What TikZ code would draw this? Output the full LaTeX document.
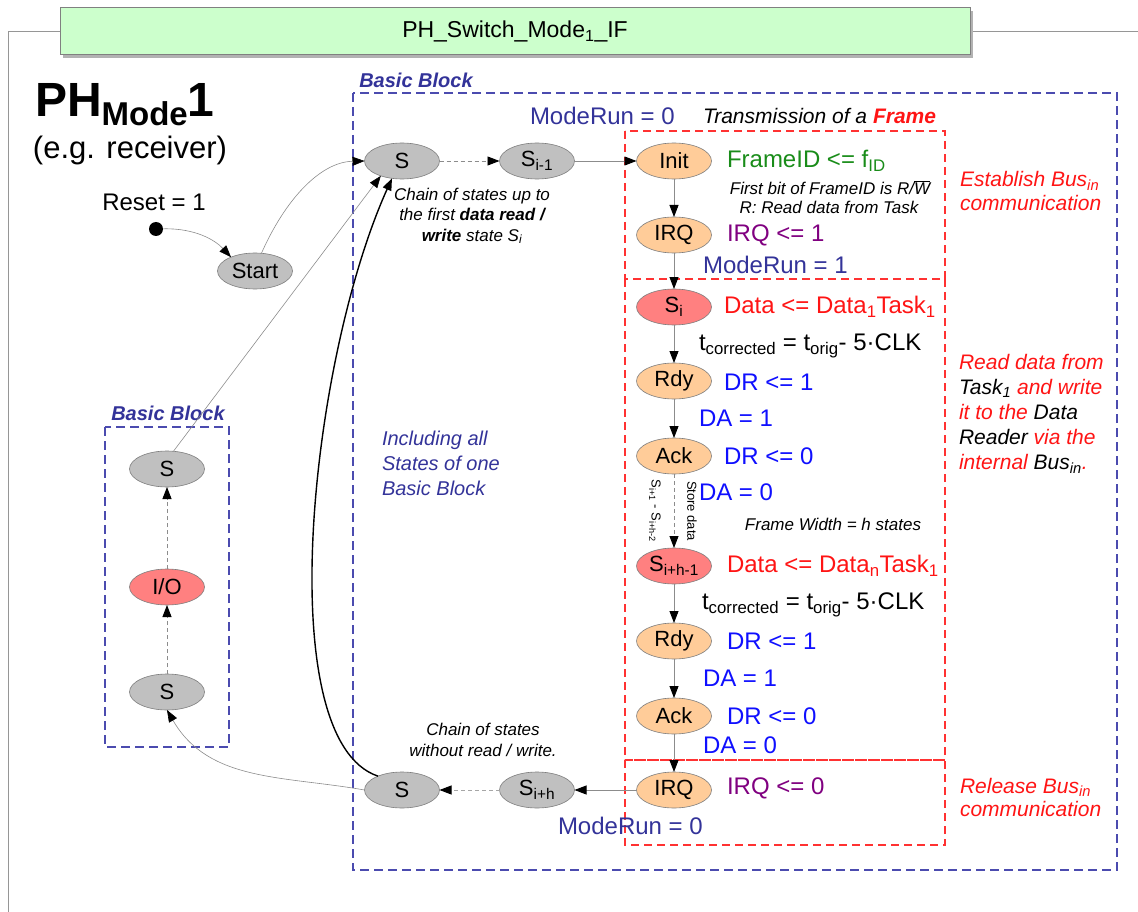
\documentclass[tikz,border=0pt]{standalone}
\usepackage{fontspec}
\setmainfont{Liberation Sans}
\usetikzlibrary{shapes.geometric,arrows.meta}

\definecolor{stgray}{RGB}{192,192,192}
\definecolor{stedge}{RGB}{125,125,125}
\definecolor{storange}{RGB}{255,204,153}
\definecolor{stred}{RGB}{255,128,128}
\definecolor{navy}{RGB}{51,51,153}
\definecolor{bbblue}{RGB}{75,75,175}
\definecolor{frred}{RGB}{255,20,20}
\definecolor{boxred}{RGB}{255,50,50}
\definecolor{actgreen}{RGB}{25,140,25}
\definecolor{actpurple}{RGB}{128,0,128}
\definecolor{actblue}{RGB}{15,15,255}
\definecolor{hdrgreen}{RGB}{204,255,204}
\definecolor{linegray}{RGB}{140,140,140}
\definecolor{framegray}{RGB}{150,150,150}

\newcommand\fsz[1]{\fontsize{#1}{#1}\selectfont}
\newcommand\fszl[2]{\fontsize{#1}{#2}\selectfont}

\begin{document}
\begin{tikzpicture}[x=1pt,y=-1pt,
  every node/.style={inner sep=0pt, outer sep=0pt},
  st/.style={ellipse, draw=stedge, line width=0.6pt, minimum width=75pt, minimum height=36pt, font=\fsz{22}},
  gst/.style={st, fill=stgray},
  ost/.style={st, fill=storange},
  rst/.style={st, fill=stred},
  tr/.style={draw=linegray, line width=0.9pt, -{Triangle[length=12pt,width=9pt,color=black]}},
  trd/.style={tr, dash pattern=on 4pt off 3pt},
  thinln/.style={draw=linegray, line width=0.6pt, -{Triangle[length=12pt,width=9pt,color=black]}},
  bbox/.style={draw=bbblue, line width=1.1pt, dash pattern=on 9pt off 5pt},
  rbox/.style={draw=boxred, line width=1.1pt, dash pattern=on 8pt off 5pt},
  act/.style={anchor=west, font=\fsz{24}},
  note/.style={font=\itshape\fsz{17}},
  bblabel/.style={font=\bfseries\itshape\fsz{20}, text=navy}
]
\useasboundingbox (0,0) rectangle (1138,912);

% outer frame and header
\draw[framegray, line width=1pt] (8,912) -- (8,32) -- (60,32);
\draw[framegray, line width=1pt] (970,32) -- (1138,32);
\fill[black!30] (63,11) rectangle (973,58);
\node[draw=gray, line width=1pt, fill=hdrgreen, minimum width=910pt, minimum height=47pt, font=\fsz{23}] (hdr) at (515,31.5) {PH\_Switch\_Mode\textsubscript{1}\_IF};

% title
\node[anchor=base west, font=\bfseries\fsz{48}] (title) at (35,117) {PH\raisebox{-9pt}{\fsz{33}Mode}1};
\node[font=\fsz{31}] (sub) at (130,150) {(e.g. receiver)};
\node[font=\fsz{24}] (rsttxt) at (154,202) {Reset = 1};

% block outlines
\draw[bbox] (353,93) rectangle (1117,870);
\node[bblabel] (bbl1) at (416,80) {Basic Block};
\draw[bbox] (105,427) rectangle (229,747);
\node[bblabel] (bbl2) at (168,413) {Basic Block};
\draw[rbox] (625,131) rectangle (945,279);
\draw[rbox] (625,279) rectangle (945,760);
\draw[rbox] (625,760) rectangle (945,845);

% states
\node[circle, fill=black, minimum size=14pt] (rdot) at (156,229) {};
\node[gst] (start) at (255,271) {Start};
\node[gst] (stop) at (402,161) {S};
\node[gst] (sim1) at (537,161) {S\textsubscript{i-1}};
\node[ost] (init) at (674,161) {Init};
\node[ost] (irq1) at (674,235) {IRQ};
\node[rst] (si) at (674,307) {S\textsubscript{i}};
\node[ost] (rdy1) at (674,381) {Rdy};
\node[ost] (ack1) at (674,456) {Ack};
\node[rst] (sih1) at (674,566) {S\textsubscript{i+h-1}};
\node[ost] (rdy2) at (674,641) {Rdy};
\node[ost] (ack2) at (674,716) {Ack};
\node[ost] (irq2) at (674,790) {IRQ};
\node[gst] (sih) at (537,790) {S\textsubscript{i+h}};
\node[gst] (sbot) at (402,790) {S};
\node[gst] (ltop) at (167,469) {S};
\node[rst] (lio) at (167,587) {I/O};
\node[gst] (lbot) at (167,692) {S};

% transitions
\draw[thinln] (rdot) .. controls (195,228) and (215,240) .. (start.150);
\draw[thinln] (start.70) .. controls (285,200) and (320,162) .. (stop.west);
\draw[thinln] (ltop.70) -- (stop.215);
\draw[trd] (stop) -- (sim1);
\draw[tr] (sim1) -- (init);
\draw[tr] (init) -- (irq1);
\draw[tr] (irq1) -- (si);
\draw[tr] (si) -- (rdy1);
\draw[tr] (rdy1) -- (ack1);
\draw[trd] (ack1) -- node[xshift=-19pt, rotate=-90, font=\fsz{13}] (lblA) {S\textsubscript{i+1} - S\textsubscript{i+h-2}}
                     node[xshift=18pt, rotate=-90, font=\fsz{13}] (lblB) {Store data} (sih1);
\draw[tr] (sih1) -- (rdy2);
\draw[tr] (rdy2) -- (ack2);
\draw[tr] (ack2) -- (irq2);
\draw[tr] (irq2) -- (sih);
\draw[tr, draw=black!35, dash pattern=on 4pt off 3pt] (sih) -- (sbot);
\draw[thinln] (sbot.west) to[out=170, in=-60] (lbot.south);
\draw[trd] (lbot) -- (lio);
\draw[trd] (lio) -- (ltop);
\draw[black, line width=1.4pt, -{Triangle[length=12pt,width=9pt]}] (sbot.150) .. controls (270,740) and (310,360) .. (stop.240);

% state actions
\node[act, text=navy] (mr0a) at (530,116) {ModeRun = 0};
\node[anchor=west, font=\itshape\fsz{21}] (trans) at (703,116) {Transmission of a \textcolor{frred}{\bfseries Frame}};
\node[act, text=actgreen] (a1) at (727,161) {FrameID <= f\textsubscript{ID}};
\node[note] (n1) at (830,188) {First bit of FrameID is R/\ensuremath{\overline{\mbox{W}}}};
\node[note] (n2) at (829,207) {R: Read data from Task};
\node[act, text=actpurple] (a2) at (727,235) {IRQ <= 1};
\node[act, text=navy] (mr1) at (703,265) {ModeRun = 1};
\node[act, text=frred] (a3) at (724,307) {Data <= Data\textsubscript{1}Task\textsubscript{1}};
\node[act] (a4) at (699,346) {t\textsubscript{corrected} = t\textsubscript{orig}- 5·CLK};
\node[act, text=actblue] (a5) at (724,382) {DR <= 1};
\node[act, text=actblue] (a6) at (699,418) {DA = 1};
\node[act, text=actblue] (a7) at (724,456) {DR <= 0};
\node[act, text=actblue] (a8) at (699,492) {DA = 0};
\node[note] (n3) at (833,524) {Frame Width = h states};
\node[act, text=frred] (a9) at (727,566) {Data <= Data\textsubscript{n}Task\textsubscript{1}};
\node[act] (a10) at (702,605) {t\textsubscript{corrected} = t\textsubscript{orig}- 5·CLK};
\node[act, text=actblue] (a11) at (727,641) {DR <= 1};
\node[act, text=actblue] (a12) at (703,678) {DA = 1};
\node[act, text=actblue] (a13) at (727,716) {DR <= 0};
\node[act, text=actblue] (a14) at (703,745) {DA = 0};
\node[act, text=actpurple] (a15) at (727,788) {IRQ <= 0};
\node[act, text=navy] (mr0b) at (558,826) {ModeRun = 0};

% comments in the picture
\node[align=center, font=\itshape\fszl{17}{20.5}] (c1) at (472,216) {Chain of states up to\\the first \textbf{data read /}\\\textbf{write} state S\textsubscript{i}};
\node[align=center, font=\itshape\fszl{17}{21}] (c2) at (483,740) {Chain of states\\without read / write.};
\node[anchor=west, align=left, text=navy, font=\itshape\fszl{20}{25}] (c3) at (382,463) {Including all\\States of one\\Basic Block};
\node[anchor=west, align=left, text=frred, font=\itshape\fszl{21}{24}] (r1) at (960,191) {Establish Bus\textsubscript{in}\\communication};
\node[anchor=west, align=left, text=frred, font=\itshape\fszl{21}{25}] (r2) at (959,414) {Read data from\\\textcolor{black}{Task\textsubscript{1}} and write\\it to the \textcolor{black}{Data}\\\textcolor{black}{Reader} via the\\internal \textcolor{black}{Bus\textsubscript{in}}.};
\node[anchor=west, align=left, text=frred, font=\itshape\fszl{21}{23}] (r3) at (960,797) {Release Bus\textsubscript{in}\\communication};
\end{tikzpicture}
\end{document}
